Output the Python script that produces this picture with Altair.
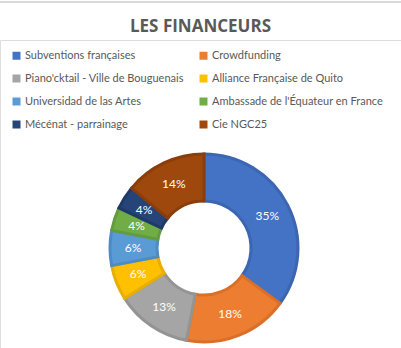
import altair as alt
import pandas as pd

categories = [
    "Subventions françaises",
    "Crowdfunding",
    "Piano'cktail - Ville de Bouguenais",
    "Alliance Française de Quito",
    "Universidad de las Artes",
    "Ambassade de l'Équateur en France",
    "Mécénat - parrainage",
    "Cie NGC25",
]
values = [35, 18, 13, 6, 6, 4, 4, 14]
fill_colors = ["#4472C4", "#ED7D31", "#A5A5A5", "#FFC000", "#5B9BD5", "#70AD47", "#264478", "#9E480E"]
stroke_colors = ["#3C66B1", "#D9702A", "#949494", "#E8AE00", "#4F8BC2", "#639C3E", "#1F3A68", "#8A3E0B"]

df = pd.DataFrame({
    "cat": categories,
    "val": values,
    "ord": list(range(len(categories))),
    "label": [f"{v}%" for v in values],
})

CX, CY = 204, 208  # centre of the donut in plot-area coordinates (top padding 40)

base = alt.Chart(df).encode(
    theta=alt.Theta("val:Q", stack=True),
    order=alt.Order("ord:Q"),
)

arcs = base.mark_arc(outerRadius=94, innerRadius=47, strokeWidth=3).encode(
    x=alt.value(CX),
    y=alt.value(CY),
    color=alt.Color(
        "cat:N",
        sort=categories,
        scale=alt.Scale(domain=categories, range=fill_colors),
        legend=alt.Legend(
            title=None,
            orient="none",
            direction="horizontal",
            legendX=11,
            legendY=10,
            columns=2,
            symbolType="square",
            symbolSize=64,
            symbolStrokeWidth=0,
            labelFont="Lato",
            labelFontSize=11,
            labelColor="#595959",
            labelOffset=3,
            rowPadding=11,
            columnPadding=14,
            labelLimit=300,
        ),
    ),
    stroke=alt.Stroke(
        "cat:N",
        scale=alt.Scale(domain=categories, range=stroke_colors),
        legend=None,
    ),
)

labels = base.mark_text(radius=71, font="Lato", fontSize=12, color="white").encode(
    x=alt.value(CX),
    y=alt.value(CY),
    text="label:N",
)

border = alt.Chart(df).mark_rule(color="#D9D9D9", strokeWidth=1.5).encode(
    x=alt.value(0), x2=alt.value(401), y=alt.value(-38)
)

chart = (
    alt.layer(border, arcs, labels)
    .properties(
        width=401,
        height=308,
        padding={"top": 40, "left": 0, "right": 0, "bottom": 0},
        autosize=alt.AutoSizeParams(type="none"),
        title=alt.TitleParams(
            "LES FINANCEURS",
            font="Open Sans",
            fontSize=17,
            fontWeight="bold",
            color="#595959",
            anchor="middle",
            offset=0,
            dy=35,
        ),
    )
    .configure_view(stroke=None)
    .configure(background="white")
)

chart.save("out.html", embed_options={"renderer": "svg", "actions": False})
